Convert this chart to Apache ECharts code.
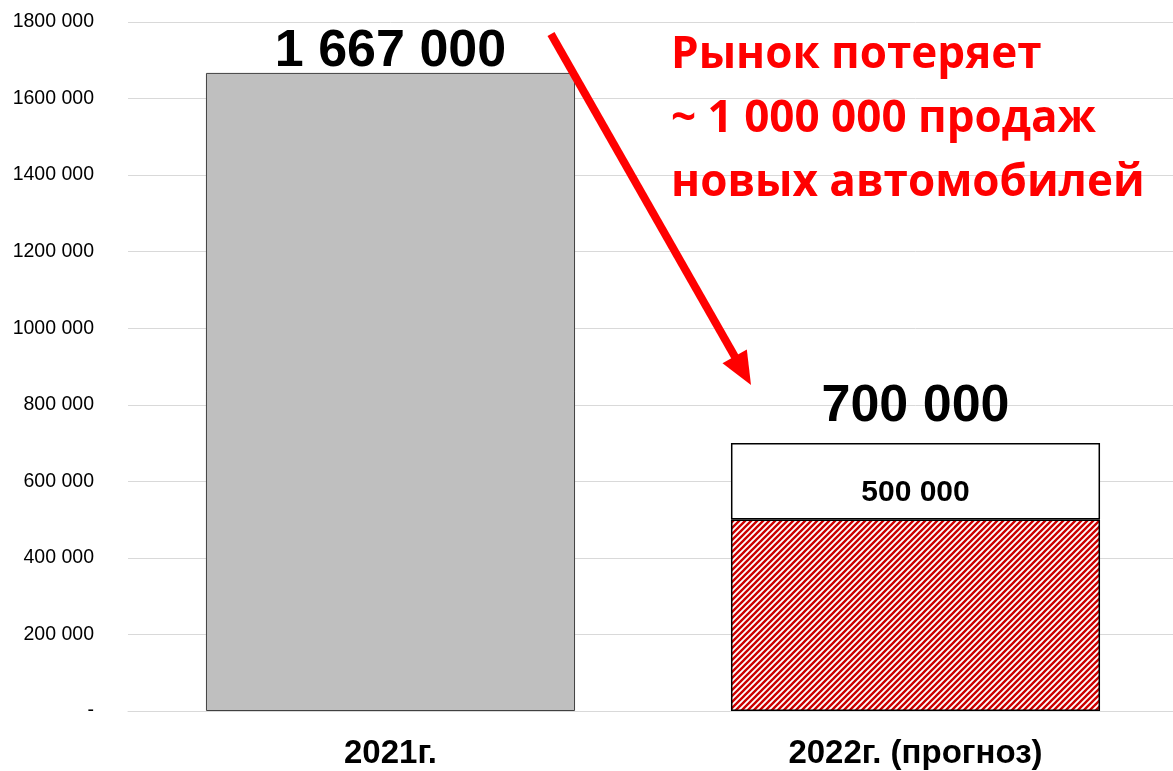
<!DOCTYPE html>
<html>
<head>
<meta charset="utf-8">
<script src="https://cdn.jsdelivr.net/npm/echarts@6/dist/echarts.min.js"></script>
<style>
  html, body { margin: 0; padding: 0; background: #fff; overflow: hidden; }
  #chart { width: 1180px; height: 771px; }
</style>
</head>
<body>
<div id="chart"></div>
<script>
(function () {
    // данные
    var categories = ['2021г.', '2022г. (прогноз)'];
    var baseValues = [1667000, 500000];      // 2021 факт / 2022 нижняя часть
    var extraValues = [null, 200000];        // 2022 верхняя часть (до 700 000)
    var yTicks = [0, 200000, 400000, 600000, 800000, 1000000, 1200000, 1400000, 1600000, 1800000];

    // штриховка для прогноза
    var hatch = document.createElement('canvas');
    hatch.width = 6;
    hatch.height = 6;
    var ctx = hatch.getContext('2d');
    ctx.fillStyle = '#ffffff';
    ctx.fillRect(0, 0, 6, 6);
    ctx.strokeStyle = '#cc0000';
    ctx.lineWidth = 2.4;
    ctx.beginPath();
    ctx.moveTo(-1, 7); ctx.lineTo(7, -1);
    ctx.moveTo(-4, 4); ctx.lineTo(4, -4);
    ctx.moveTo(2, 10); ctx.lineTo(10, 2);
    ctx.stroke();

    function fmt(v) {
        if (v === 0) return '-';
        var th = Math.floor(v / 1000);
        var rest = String(v % 1000);
        while (rest.length < 3) rest = '0' + rest;
        return th + ' ' + rest;
    }
    function fmtFull(v) {
        return String(v).replace(/\B(?=(\d{3})+(?!\d))/g, ' ');
    }

    var myChart = echarts.init(document.getElementById('chart'));

    // стрелка
    var tip = [751, 385], start = [551, 34];
    var dx = tip[0] - start[0], dy = tip[1] - start[1];
    var len = Math.sqrt(dx * dx + dy * dy);
    var ux = dx / len, uy = dy / len;
    var headLen = 33, headHalf = 14;
    var bx = tip[0] - ux * headLen, by = tip[1] - uy * headLen;

    var option = {
        animation: false,
        backgroundColor: '#ffffff',
        title: {
            text: 'Рынок потеряет\n~ 1 000 000 продаж\nновых автомобилей',
            left: 666,
            top: 18,
            textStyle: {
                color: '#ff0000',
                fontSize: 44,
                fontWeight: 'bold',
                fontFamily: 'Open Sans',
                lineHeight: 64
            }
        },
        grid: { left: 128, width: 1050, top: 22, bottom: 60 },
        xAxis: {
            type: 'category',
            data: categories,
            axisTick: { show: false },
            axisLine: { lineStyle: { color: '#d9d9d9', width: 1 } },
            axisLabel: {
                color: '#000',
                fontSize: 33,
                fontWeight: 'bold',
                fontFamily: 'Liberation Sans',
                margin: 26
            }
        },
        yAxis: {
            type: 'value',
            min: yTicks[0],
            max: yTicks[yTicks.length - 1],
            interval: yTicks[1] - yTicks[0],
            axisLine: { show: false },
            axisTick: { show: false },
            splitLine: { lineStyle: { color: '#d9d9d9', width: 1 } },
            axisLabel: {
                color: '#000',
                fontSize: 19.5,
                fontFamily: 'Liberation Sans',
                margin: 34,
                formatter: fmt
            }
        },
        series: [{
            name: 'base',
            type: 'bar',
            stack: 'total',
            barWidth: '70.3%',
            data: [{
                value: baseValues[0],
                itemStyle: { color: '#bfbfbf', borderColor: '#404040', borderWidth: 1 },
                label: {
                    show: true, position: 'top', distance: -5,
                    fontSize: 52, fontWeight: 'bold', color: '#000',
                    fontFamily: 'Liberation Sans',
                    formatter: function (p) { return fmtFull(p.value); }
                }
            }, {
                value: baseValues[1],
                itemStyle: { color: { image: hatch, repeat: 'repeat' }, borderColor: '#000', borderWidth: 1.5 },
                label: {
                    show: true, position: 'top', distance: 12,
                    fontSize: 30, fontWeight: 'bold', color: '#000',
                    fontFamily: 'Liberation Sans',
                    formatter: function (p) { return fmtFull(p.value); }
                }
            }]
        }, {
            name: 'extra',
            type: 'bar',
            stack: 'total',
            barWidth: '70.3%',
            itemStyle: { color: '#ffffff', borderColor: '#000', borderWidth: 1.5 },
            label: {
                show: true, position: 'top', distance: 10,
                fontSize: 52, fontWeight: 'bold', color: '#000',
                fontFamily: 'Liberation Sans',
                formatter: function (p) {
                    return fmtFull(baseValues[p.dataIndex] + extraValues[p.dataIndex]);
                }
            },
            data: extraValues
        }],
        graphic: [{
            type: 'line',
            shape: { x1: start[0], y1: start[1], x2: bx + ux * 2, y2: by + uy * 2 },
            style: { stroke: '#ff0000', lineWidth: 8 },
            z: 100
        }, {
            type: 'polygon',
            shape: {
                points: [
                    tip,
                    [bx - uy * headHalf, by + ux * headHalf],
                    [bx + uy * headHalf, by - ux * headHalf]
                ]
            },
            style: { fill: '#ff0000' },
            z: 100
        }]
    };

    myChart.setOption(option);
})();
</script>
</body>
</html>
